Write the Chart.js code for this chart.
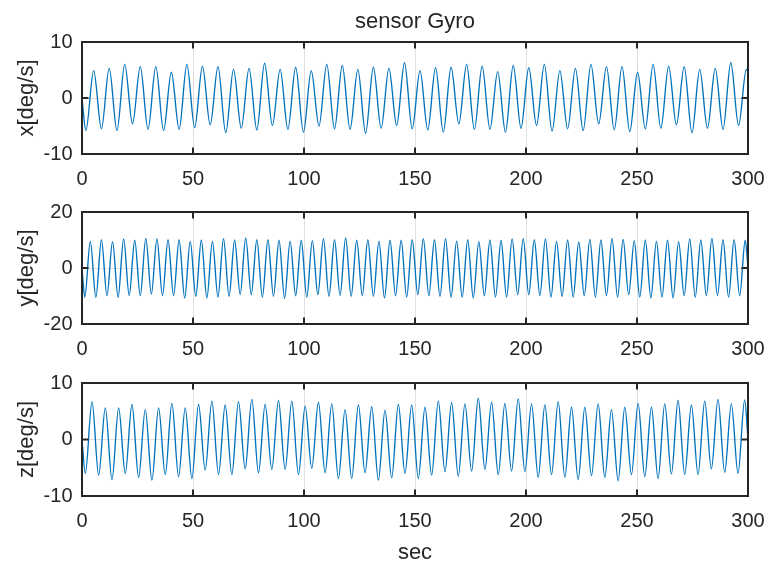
<!DOCTYPE html>
<html>
<head>
<meta charset="utf-8">
<title>sensor Gyro</title>
<script src="https://cdn.jsdelivr.net/npm/chart.js@4.4.1/dist/chart.umd.min.js"></script>
<style>
  html, body { margin: 0; padding: 0; background: #fff; }
  body { width: 767px; height: 565px; position: relative; overflow: hidden; }
  canvas { position: absolute; left: 0; }
</style>
</head>
<body>
<canvas id="gx" width="767" height="198" style="top:0px"></canvas>
<canvas id="gy" width="767" height="170" style="top:198px"></canvas>
<canvas id="gz" width="767" height="197" style="top:368px"></canvas>
<script>
// Gyro rate samples at the turning points of each axis signal (time in sec, rate in deg/s)
const xTimes = [0,
  1.75, 5.25, 8.75, 12.25, 15.75, 19.25, 22.75, 26.25, 29.75, 33.25,
  36.75, 40.25, 43.75, 47.25, 50.75, 54.25, 57.75, 61.25, 64.75, 68.25,
  71.75, 75.25, 78.75, 82.25, 85.75, 89.25, 92.75, 96.25, 99.75, 103.25,
  106.75, 110.25, 113.75, 117.25, 120.75, 124.25, 127.75, 131.25, 134.75, 138.25,
  141.75, 145.25, 148.75, 152.25, 155.75, 159.25, 162.75, 166.25, 169.75, 173.25,
  176.75, 180.25, 183.75, 187.25, 190.75, 194.25, 197.75, 201.25, 204.75, 208.25,
  211.75, 215.25, 218.75, 222.25, 225.75, 229.25, 232.75, 236.25, 239.75, 243.25,
  246.75, 250.25, 253.75, 257.25, 260.75, 264.25, 267.75, 271.25, 274.75, 278.25,
  281.75, 285.25, 288.75, 292.25, 295.75, 299.25,
  300];
const xRates = [0,
  -5.8, 4.9, -5.5, 5.3, -5.8, 6.0, -4.6, 5.6, -5.6, 5.6,
  -5.8, 4.6, -5.6, 6.0, -5.3, 5.7, -4.8, 5.6, -6.2, 5.1,
  -5.4, 5.3, -5.7, 6.2, -4.9, 5.1, -5.6, 5.5, -6.1, 4.9,
  -5.0, 6.0, -5.5, 5.8, -5.6, 5.1, -6.3, 5.5, -5.4, 5.3,
  -4.9, 6.3, -5.5, 4.9, -5.7, 5.4, -6.1, 5.5, -4.6, 6.0,
  -5.6, 5.7, -5.6, 4.7, -6.1, 5.8, -5.4, 5.4, -4.9, 6.0,
  -5.9, 4.9, -5.5, 5.3, -5.8, 6.0, -4.6, 5.6, -5.7, 5.6,
  -6.0, 4.6, -5.5, 6.0, -5.4, 5.7, -4.8, 5.6, -6.2, 5.1,
  -5.4, 5.3, -5.6, 6.3, -4.9, 5.1,
  4.6];

const yTimes = [0,
  1.25, 3.75, 6.25, 8.75, 11.25, 13.75, 16.25, 18.75, 21.25, 23.75,
  26.25, 28.75, 31.25, 33.75, 36.25, 38.75, 41.25, 43.75, 46.25, 48.75,
  51.25, 53.75, 56.25, 58.75, 61.25, 63.75, 66.25, 68.75, 71.25, 73.75,
  76.25, 78.75, 81.25, 83.75, 86.25, 88.75, 91.25, 93.75, 96.25, 98.75,
  101.25, 103.75, 106.25, 108.75, 111.25, 113.75, 116.25, 118.75, 121.25, 123.75,
  126.25, 128.75, 131.25, 133.75, 136.25, 138.75, 141.25, 143.75, 146.25, 148.75,
  151.25, 153.75, 156.25, 158.75, 161.25, 163.75, 166.25, 168.75, 171.25, 173.75,
  176.25, 178.75, 181.25, 183.75, 186.25, 188.75, 191.25, 193.75, 196.25, 198.75,
  201.25, 203.75, 206.25, 208.75, 211.25, 213.75, 216.25, 218.75, 221.25, 223.75,
  226.25, 228.75, 231.25, 233.75, 236.25, 238.75, 241.25, 243.75, 246.25, 248.75,
  251.25, 253.75, 256.25, 258.75, 261.25, 263.75, 266.25, 268.75, 271.25, 273.75,
  276.25, 278.75, 281.25, 283.75, 286.25, 288.75, 291.25, 293.75, 296.25, 298.75,
  300];
const yRates = [0,
  -10.4, 9.5, -10.5, 10.1, -9.9, 9.4, -10.5, 10.4, -9.8, 9.9,
  -9.9, 10.6, -9.3, 10.4, -9.9, 10.1, -9.9, 10.1, -10.7, 9.5,
  -10.1, 10.0, -10.7, 9.5, -10.4, 10.5, -10.1, 10.0, -9.5, 10.7,
  -9.5, 10.1, -10.4, 10.1, -10.1, 9.9, -10.8, 9.6, -9.9, 9.9,
  -10.4, 9.8, -9.5, 10.5, -10.1, 10.1, -9.8, 10.7, -10.1, 9.9,
  -9.9, 10.1, -10.1, 9.6, -10.7, 9.9, -9.9, 9.9, -10.4, 10.1,
  -9.5, 10.5, -9.9, 10.1, -10.1, 10.5, -10.4, 9.6, -10.4, 10.1,
  -10.7, 9.4, -9.9, 10.0, -10.4, 9.9, -10.4, 10.4, -9.5, 10.5,
  -9.5, 10.1, -9.9, 10.4, -10.4, 9.5, -10.1, 10.0, -10.4, 9.3,
  -9.9, 10.2, -10.4, 10.0, -9.9, 10.6, -10.4, 10.2, -9.5, 9.8,
  -10.4, 10.0, -10.7, 9.5, -10.4, 9.9, -10.7, 9.4, -9.9, 10.4,
  -10.4, 10.0, -9.9, 10.6, -9.9, 10.1, -10.4, 10.1, -9.9, 9.9,
  0];

const zTimes = [0,
  1.5, 4.5, 7.5, 10.5, 13.5, 16.5, 19.5, 22.5, 25.5, 28.5,
  31.5, 34.5, 37.5, 40.5, 43.5, 46.5, 49.5, 52.5, 55.5, 58.5,
  61.5, 64.5, 67.5, 70.5, 73.5, 76.5, 79.5, 82.5, 85.5, 88.5,
  91.5, 94.5, 97.5, 100.5, 103.5, 106.5, 109.5, 112.5, 115.5, 118.5,
  121.5, 124.5, 127.5, 130.5, 133.5, 136.5, 139.5, 142.5, 145.5, 148.5,
  151.5, 154.5, 157.5, 160.5, 163.5, 166.5, 169.5, 172.5, 175.5, 178.5,
  181.5, 184.5, 187.5, 190.5, 193.5, 196.5, 199.5, 202.5, 205.5, 208.5,
  211.5, 214.5, 217.5, 220.5, 223.5, 226.5, 229.5, 232.5, 235.5, 238.5,
  241.5, 244.5, 247.5, 250.5, 253.5, 256.5, 259.5, 262.5, 265.5, 268.5,
  271.5, 274.5, 277.5, 280.5, 283.5, 286.5, 289.5, 292.5, 295.5, 298.5,
  300];
const zRates = [0,
  -6.0, 6.7, -6.3, 5.6, -7.1, 5.6, -6.0, 6.2, -6.7, 5.3,
  -7.2, 5.6, -6.2, 6.4, -6.6, 5.6, -6.9, 6.2, -5.4, 6.8,
  -6.2, 6.1, -6.2, 6.7, -5.2, 7.1, -5.9, 6.2, -5.3, 6.9,
  -5.3, 6.8, -6.2, 5.9, -5.1, 6.6, -5.9, 6.3, -6.9, 5.3,
  -6.9, 6.1, -5.9, 5.8, -7.2, 5.2, -6.8, 6.2, -6.0, 6.1,
  -6.9, 5.7, -6.3, 6.8, -5.7, 6.5, -6.5, 6.3, -5.6, 7.3,
  -5.3, 6.6, -6.2, 6.4, -5.6, 7.2, -5.7, 6.3, -6.7, 6.1,
  -6.2, 6.7, -6.7, 5.7, -7.1, 5.7, -6.4, 6.3, -6.7, 5.3,
  -7.3, 5.7, -6.2, 6.4, -6.6, 5.7, -6.9, 6.3, -6.1, 6.9,
  -6.2, 6.1, -6.2, 6.8, -5.2, 7.1, -5.8, 6.3, -6.0, 7.0,
  0];

// Axis ticks
const timeTicks = [0, 50, 100, 150, 200, 250, 300];
const xRateTicks = [-10, 0, 10];
const yRateTicks = [-20, 0, 20];
const zRateTicks = [-10, 0, 10];

const INK = '#262626';
const GRID = '#dfdfdf';
const TRACE = '#0072BD';
const FACE = "'Liberation Sans', Arial, Helvetica, sans-serif";
const CLEAR = 'rgba(0,0,0,0)';

// Box outline with inward tick marks on all four sides
const boxFrame = {
  id: 'boxFrame',
  afterDatasetsDraw(chart) {
    const { ctx, chartArea: a, scales } = chart;
    const len = 6.5;
    ctx.save();
    ctx.strokeStyle = INK;
    ctx.lineWidth = 2;
    ctx.beginPath();
    scales.x.ticks.forEach(t => {
      const p = scales.x.getPixelForValue(t.value);
      ctx.moveTo(p, a.bottom); ctx.lineTo(p, a.bottom - len);
      ctx.moveTo(p, a.top); ctx.lineTo(p, a.top + len);
    });
    scales.y.ticks.forEach(t => {
      const p = scales.y.getPixelForValue(t.value);
      ctx.moveTo(a.left, p); ctx.lineTo(a.left + len, p);
      ctx.moveTo(a.right, p); ctx.lineTo(a.right - len, p);
    });
    ctx.stroke();
    ctx.strokeRect(a.left, a.top, a.right - a.left, a.bottom - a.top);
    ctx.restore();
  }
};

function makePanel(id, times, rates, rateTicks, rateLabel, opt) {
  const points = times.map((t, i) => ({ x: t, y: rates[i] }));
  const tickFont = { family: FACE, size: 20 };
  const labelFont = { family: FACE, size: 22 };
  return new Chart(document.getElementById(id), {
    type: 'line',
    data: {
      datasets: [{
        data: points,
        borderColor: TRACE,
        borderWidth: 1.35,
        pointRadius: 0,
        fill: false,
        cubicInterpolationMode: 'monotone'
      }]
    },
    options: {
      responsive: false,
      animation: false,
      events: [],
      layout: { padding: { top: opt.padTop, right: 19, bottom: 0, left: 0 } },
      plugins: {
        legend: { display: false },
        tooltip: { enabled: false },
        title: opt.title ? {
          display: true,
          text: opt.title,
          fullSize: false,
          color: INK,
          font: { family: FACE, size: 22, weight: 'normal' },
          padding: { top: 9, bottom: 6.6 }
        } : { display: false }
      },
      scales: {
        x: {
          type: 'linear',
          min: timeTicks[0],
          max: timeTicks[timeTicks.length - 1],
          afterBuildTicks: s => { s.ticks = timeTicks.map(v => ({ value: v })); },
          afterFit: s => { s.height = opt.xHeight; },
          ticks: { color: INK, font: tickFont, padding: 0, maxRotation: 0, autoSkip: false },
          grid: { color: GRID, lineWidth: 1, drawTicks: true, tickLength: 13, tickColor: CLEAR },
          border: { display: false },
          title: opt.xTitle ? {
            display: true, text: opt.xTitle, color: INK, font: labelFont,
            padding: { top: 0, bottom: -1 }
          } : { display: false }
        },
        y: {
          type: 'linear',
          min: rateTicks[0],
          max: rateTicks[rateTicks.length - 1],
          afterBuildTicks: s => { s.ticks = rateTicks.map(v => ({ value: v })); },
          afterFit: s => { s.width = 82; },
          ticks: { color: INK, font: tickFont, padding: 0 },
          grid: { color: GRID, lineWidth: 1, drawTicks: true, tickLength: 9.5, tickColor: CLEAR },
          border: { display: false },
          title: {
            display: true, text: rateLabel, color: INK, font: labelFont,
            padding: { top: 13.8, bottom: 0 }
          }
        }
      }
    },
    plugins: [boxFrame]
  });
}

makePanel('gx', xTimes, xRates, xRateTicks, 'x[deg/s]', { padTop: 0, xHeight: 44, title: 'sensor Gyro' });
makePanel('gy', yTimes, yRates, yRateTicks, 'y[deg/s]', { padTop: 14, xHeight: 44 });
makePanel('gz', zTimes, zRates, zRateTicks, 'z[deg/s]', { padTop: 15, xHeight: 69, xTitle: 'sec' });
</script>
</body>
</html>
